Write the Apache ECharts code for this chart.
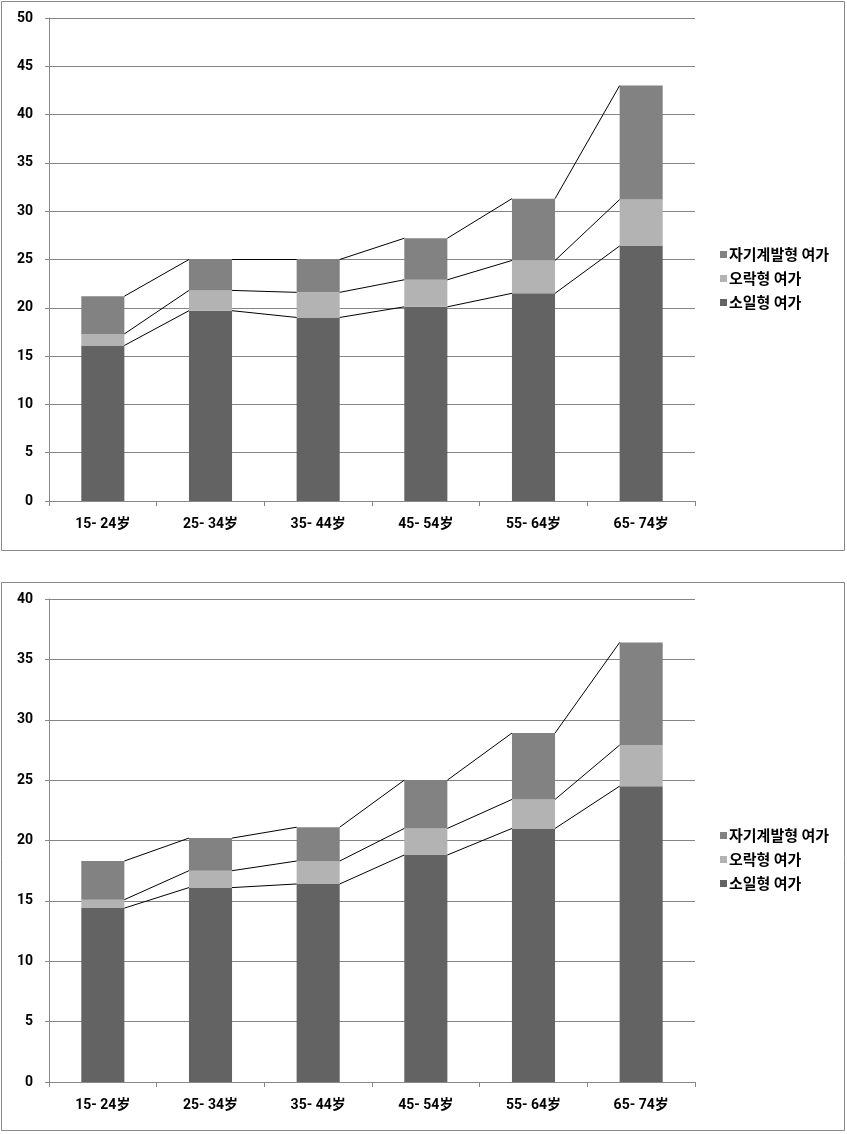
<!DOCTYPE html>
<html>
<head>
<meta charset="utf-8">
<style>
  html, body { margin: 0; padding: 0; background: #fff; }
  #chart { width: 847px; height: 1134px; }
</style>
<script src="https://cdn.jsdelivr.net/npm/echarts@6/dist/echarts.min.js"></script>
</head>
<body>
<div id="chart"></div>
<script>
// 연령대
const categories = ['15- 24岁', '25- 34岁', '35- 44岁', '45- 54岁', '55- 64岁', '65- 74岁']
const seriesNames = ['소일형 여가', '오락형 여가', '자기계발형 여가']

// 위 차트
const topIdle = [16.1, 19.7, 19.0, 20.1, 21.5, 26.4]
const topFun = [1.2, 2.1, 2.6, 2.8, 3.4, 4.8]
const topSelf = [3.9, 3.2, 3.4, 4.3, 6.4, 11.8]
const topTicks = { min: 0, max: 50, interval: 5 }

// 아래 차트
const botIdle = [14.4, 16.1, 16.4, 18.8, 21.0, 24.5]
const botFun = [0.7, 1.4, 1.9, 2.2, 2.4, 3.4]
const botSelf = [3.2, 2.7, 2.8, 4.0, 5.5, 8.5]
const botTicks = { min: 0, max: 40, interval: 5 }

const colors = ['#636363', '#b3b3b3', '#828282']
const labelFont = 'Roboto, "Noto Sans CJK SC", sans-serif'
const legendFont = '"Noto Sans CJK KR", sans-serif'

function cumulate(lists) {
  const out = []
  let run = lists[0].map(() => 0)
  lists.forEach((list) => {
    run = run.map((v, i) => v + list[i])
    out.push(run)
  })
  return out
}

function makeAxes(idx, ticks) {
  const xAxis = {
    type: 'category',
    gridIndex: idx,
    data: categories,
    axisLine: { lineStyle: { color: '#888', width: 1 } },
    axisTick: { show: true, length: 5, lineStyle: { color: '#888' } },
    axisLabel: { color: '#000', fontSize: 14, fontWeight: 'bold', fontFamily: labelFont, margin: 16 }
  }
  const yAxis = {
    type: 'value',
    gridIndex: idx,
    min: ticks.min,
    max: ticks.max,
    interval: ticks.interval,
    axisLine: { show: true, lineStyle: { color: '#888' } },
    axisTick: { show: true, length: 4, lineStyle: { color: '#888' } },
    splitLine: { lineStyle: { color: '#858585', width: 1 } },
    axisLabel: { color: '#000', fontSize: 14, fontWeight: 'bold', fontFamily: labelFont, margin: 16 }
  }
  return { xAxis, yAxis }
}

function makeSeries(idx, lists) {
  const series = lists.map((list, k) => ({
    name: seriesNames[k],
    type: 'bar',
    stack: 'total' + idx,
    xAxisIndex: idx,
    yAxisIndex: idx,
    barWidth: '40%',
    itemStyle: { color: colors[k] },
    data: list,
    silent: true
  }))
  const cums = cumulate(lists)
  // 계열선: 막대 오른쪽 끝에서 다음 막대 왼쪽 끝까지
  series.push({
    type: 'custom',
    xAxisIndex: idx,
    yAxisIndex: idx,
    silent: true,
    data: categories.slice(0, -1).map((c, i) => [i]),
    renderItem: function(params, api) {
      const i = api.value(0)
      const half = api.size([1, 0])[0] * 0.2
      const children = cums.map((cum) => {
        const p1 = api.coord([i, cum[i]])
        const p2 = api.coord([i + 1, cum[i + 1]])
        return {
          type: 'line',
          shape: { x1: p1[0] + half, y1: p1[1], x2: p2[0] - half, y2: p2[1] },
          style: { stroke: '#000', lineWidth: 1 }
        }
      })
      return { type: 'group', children: children }
    },
    z: 5
  })
  return series
}

const a0 = makeAxes(0, topTicks)
const a1 = makeAxes(1, botTicks)

const legendBase = {
  orient: 'vertical',
  left: 715,
  icon: 'rect',
  itemWidth: 7,
  itemHeight: 7,
  itemGap: 7,
  data: seriesNames.slice().reverse(),
  selectedMode: false,
  textStyle: { color: '#000', fontSize: 15, fontWeight: 'bold', fontFamily: legendFont, lineHeight: 17, padding: [0, 0, 0, -3] }
}

const chart = echarts.init(document.getElementById('chart'), null, { renderer: 'canvas' })
chart.setOption({
  animation: false,
  backgroundColor: '#fff',
  grid: [
    { left: 49, top: 18, width: 646, height: 483 },
    { left: 49, top: 599, width: 646, height: 483 }
  ],
  xAxis: [a0.xAxis, a1.xAxis],
  yAxis: [a0.yAxis, a1.yAxis],
  legend: [
    Object.assign({}, legendBase, { top: 241 }),
    Object.assign({}, legendBase, { top: 822 })
  ],
  graphic: [
    { type: 'rect', shape: { x: 1.5, y: 1.5, width: 843, height: 549 }, style: { fill: null, stroke: '#888', lineWidth: 1 } },
    { type: 'rect', shape: { x: 1.5, y: 582.5, width: 843, height: 548 }, style: { fill: null, stroke: '#888', lineWidth: 1 } }
  ],
  series: makeSeries(0, [topIdle, topFun, topSelf]).concat(makeSeries(1, [botIdle, botFun, botSelf]))
})
</script>
</body>
</html>
